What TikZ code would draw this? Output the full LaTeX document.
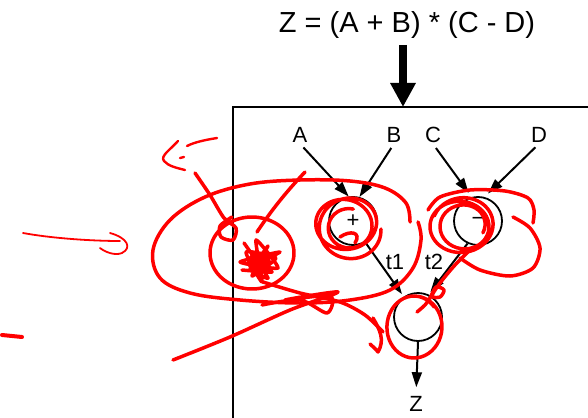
\documentclass[tikz,border=0pt]{standalone}
\usepackage{fontspec}
\setmainfont{Liberation Sans}
\usetikzlibrary{arrows.meta}
\begin{document}
\begin{tikzpicture}[x=1pt,y=-1pt,
  lbl/.style={font=\fontsize{22}{24}\selectfont, inner sep=1pt},
  op/.style={circle, draw, line width=1.8pt, minimum size=48pt, inner sep=0pt, font=\fontsize{22}{24}\selectfont},
  arr/.style={line width=2pt, -{Triangle[length=15pt,width=10pt]}},
  bigarr/.style={line width=8pt, -{Triangle[length=24pt,width=24pt]}},
  scr/.style={red, line width=3.5pt, line cap=round, line join=round},
]
\useasboundingbox (0,0) rectangle (588,417);
\clip (0,0) rectangle (588,417);

% title and big arrow
\node[font=\fontsize{29}{32}\selectfont, anchor=base, inner sep=0pt] (title) at (407,33) {Z = (A + B) * (C - D)};
\coordinate (boxtop) at (403,107);
\draw[bigarr] (403,45) -- (boxtop);

% box
\draw[line width=1.6pt] (233,430) |- (600,107);

% labels
\node[lbl] (A) at (300,135) {A};
\node[lbl] (B) at (394,135) {B};
\node[lbl] (C) at (433,135) {C};
\node[lbl] (D) at (539,135) {D};

% operators
\node[op] (plus) at (353,221) {+};
\node[op] (minus) at (478,221) {−};
\node[op] (times) at (418,317) {};
\node[lbl] (Z) at (416,404) {Z};
\node[lbl] (t1) at (395,262) {t1};
\node[lbl] (t2) at (434,262) {t2};

% connectors
\draw[arr, shorten <=5pt] (A.south) -- (plus.100);
\draw[arr, shorten <=5pt] (B.south) -- (plus.75);
\draw[arr, shorten <=5pt, shorten >=5pt] (C.south) -- (minus.105);
\draw[arr, shorten <=5pt, shorten >=5pt] (D.south) -- (minus.75);
\draw[arr, shorten >=3pt] (plus.-60) -- (times.125);
\draw[arr, shorten >=3pt] (minus.-115) -- (times.65);
\draw[arr, shorten >=8pt] (times.south) -- (Z.north);

% red scribbles
% big ellipse
\draw[scr] plot[smooth, tension=0.6] coordinates {(410,222) (406,203) (385,188) (350,181) (300,180) (250,184) (205,197) (170,220) (153,250) (160,278) (190,293) (240,300) (300,303) (350,300) (390,290) (413,268) (421,240) (418,222)};
% small circle
\draw[scr] plot[smooth, domain=100:480, samples=50, variable=\t] ({252 + 42*cos(\t)}, {253 + 36*sin(\t)});
% blob
\fill[red] (259,262) ellipse (12 and 10);
\draw[scr, line width=3.5pt] plot[smooth, tension=0.3] coordinates {(244,243) (268,278) (250,268) (280,252) (240,262) (278,268) (256,240) (262,282) (246,252) (276,258) (252,276) (268,246) (258,262) (272,272) (242,270)};
% stroke with small loop
\draw[scr] plot[smooth] coordinates {(195,173) (210,195) (224,218) (236,228) (233,240) (221,237) (220,226) (232,217)};
% marks top-left
\draw[scr, line width=2.4pt] (217,138) .. controls (205,140) and (195,142) .. (187,146);
\draw[scr, line width=2.4pt] (178,141) .. controls (170,150) and (160,156) .. (164,161) .. controls (168,166) and (177,168) .. (185,170);
\draw[scr, line width=2.4pt] (180,158) -- (184,157);
% line up from blob
\draw[scr] (257,232) .. controls (275,205) and (290,188) .. (305,172);
% left arrow
\draw[scr, line width=1.8pt] (23,233) .. controls (50,238) and (90,241) .. (120,241);
\draw[scr, line width=1.8pt] (110,233) .. controls (128,238) and (132,248) .. (122,253) .. controls (115,256) and (105,252) .. (100,248);
% dash
\draw[scr, line width=4pt] (2,335) -- (22,337);
% long line from bottom-left with zigzag
\draw[scr] plot[smooth, tension=0.5] coordinates {(173,360) (230,337) (290,310) (338,292) (285,300) (330,296) (327,313) (300,300) (262,305)};
% line from blob to times with hook
\draw[scr] plot[smooth] coordinates {(263,282) (300,293) (340,302) (365,315) (383,332)};
\draw[scr] (373,318) .. controls (380,330) and (385,340) .. (378,352) .. controls (375,348) and (372,346) .. (370,344);
% plus spiral
\draw[scr] plot[smooth, domain=0:1000, samples=90, variable=\t] ({347 + 4*sin(\t/2) + (34-\t/80)*cos(\t)}, {226 + 3*cos(\t/3) + (31-\t/90)*sin(\t)});
\draw[scr] (340,237) .. controls (350,230) and (362,232) .. (355,243);
% minus spiral and loops
\draw[scr] plot[smooth, domain=200:1100, samples=90, variable=\t] ({462 + 3*sin(\t/2) + (35-\t/90)*cos(\t)}, {226 + (31-\t/100)*sin(\t)});
\draw[scr] plot[smooth] coordinates {(428,210) (440,197) (470,190) (505,191) (528,198) (534,210) (533,223)};
\draw[scr] plot[smooth] coordinates {(513,217) (530,228) (540,248) (533,268) (510,276) (480,270) (460,258)};
% minus to times stroke
\draw[scr] plot[smooth] coordinates {(472,248) (455,265) (440,283) (432,296) (440,297) (444,290) (436,287) (430,298) (425,305) (417,312)};
% times loop
\draw[scr] plot[smooth, domain=-80:320, samples=50, variable=\t] ({414 + (28-\t/200)*cos(\t)}, {327 + 31*sin(\t)});
\end{tikzpicture}
\end{document}
